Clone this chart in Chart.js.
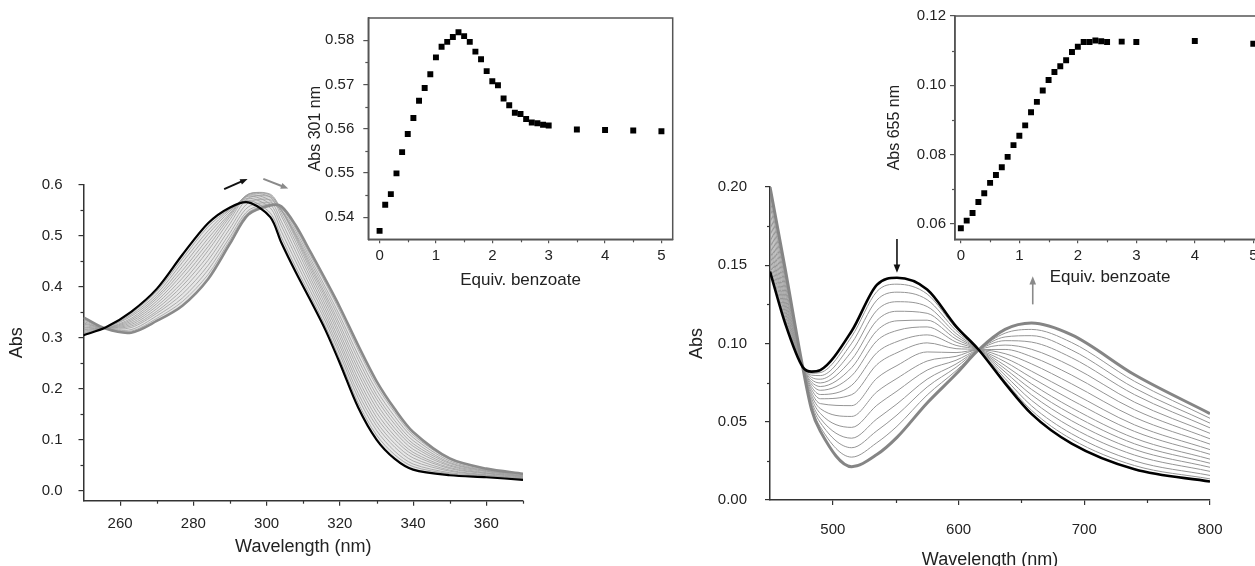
<!DOCTYPE html>
<html>
<head>
<meta charset="utf-8">
<script src="https://cdn.jsdelivr.net/npm/chart.js@4.4.1/dist/chart.umd.min.js"></script>
<style>
  html, body { margin: 0; padding: 0; background: #fff; overflow: hidden; width: 1255px; height: 566px; }
  canvas { position: absolute; }
  #uvMain { left: 0; top: 160px; }
  #visMain { left: 680px; top: 160px; }
  #uvInset { left: 300px; top: 0; }
  #visInset { left: 860px; top: 0; }
</style>
</head>
<body>
<canvas id="uvMain" width="545" height="420"></canvas>
<canvas id="visMain" width="560" height="420"></canvas>
<canvas id="uvInset" width="390" height="300"></canvas>
<canvas id="visInset" width="440" height="300"></canvas>
<script>
// ---- UV titration (left panel) ----
const uvWl = [250, 256, 263, 270, 277, 284, 290, 295, 301, 304, 308, 312, 316, 320, 325, 330, 335, 340, 350, 360, 370];
const uvStart = [0.305, 0.320, 0.351, 0.396, 0.463, 0.525, 0.556, 0.566, 0.537, 0.487, 0.428, 0.373, 0.316, 0.250, 0.163, 0.100, 0.062, 0.041, 0.030, 0.026, 0.021];
const uvEnd = [0.340, 0.318, 0.310, 0.333, 0.363, 0.415, 0.485, 0.542, 0.560, 0.558, 0.520, 0.468, 0.415, 0.360, 0.285, 0.215, 0.160, 0.115, 0.063, 0.043, 0.033];
const uvMid = [
  [0.308, 0.320, 0.348, 0.391, 0.455, 0.518, 0.553, 0.570, 0.545, 0.498, 0.438, 0.382, 0.324, 0.258, 0.172, 0.109, 0.070, 0.047, 0.033, 0.027, 0.022],
  [0.310, 0.320, 0.345, 0.386, 0.448, 0.510, 0.552, 0.574, 0.555, 0.509, 0.449, 0.391, 0.333, 0.267, 0.182, 0.118, 0.077, 0.052, 0.035, 0.029, 0.023],
  [0.313, 0.320, 0.342, 0.381, 0.440, 0.503, 0.549, 0.578, 0.562, 0.520, 0.459, 0.400, 0.341, 0.275, 0.191, 0.127, 0.085, 0.058, 0.038, 0.030, 0.024],
  [0.316, 0.319, 0.338, 0.377, 0.432, 0.495, 0.545, 0.580, 0.569, 0.529, 0.469, 0.409, 0.349, 0.284, 0.201, 0.135, 0.092, 0.064, 0.040, 0.031, 0.025],
  [0.319, 0.319, 0.335, 0.372, 0.425, 0.487, 0.542, 0.582, 0.576, 0.539, 0.479, 0.417, 0.357, 0.292, 0.210, 0.144, 0.100, 0.070, 0.043, 0.033, 0.026],
  [0.321, 0.319, 0.332, 0.367, 0.417, 0.479, 0.538, 0.582, 0.580, 0.545, 0.487, 0.425, 0.365, 0.301, 0.219, 0.153, 0.107, 0.075, 0.045, 0.034, 0.027],
  [0.324, 0.319, 0.329, 0.362, 0.409, 0.471, 0.532, 0.581, 0.582, 0.551, 0.494, 0.432, 0.373, 0.309, 0.229, 0.162, 0.115, 0.081, 0.048, 0.035, 0.028],
  [0.327, 0.319, 0.326, 0.357, 0.402, 0.461, 0.524, 0.574, 0.577, 0.552, 0.498, 0.438, 0.380, 0.318, 0.238, 0.171, 0.122, 0.087, 0.050, 0.037, 0.028],
  [0.329, 0.319, 0.323, 0.352, 0.394, 0.452, 0.515, 0.565, 0.571, 0.550, 0.501, 0.443, 0.386, 0.326, 0.247, 0.180, 0.130, 0.092, 0.053, 0.038, 0.029],
  [0.332, 0.318, 0.320, 0.348, 0.386, 0.442, 0.506, 0.557, 0.565, 0.550, 0.504, 0.449, 0.393, 0.335, 0.257, 0.188, 0.137, 0.098, 0.055, 0.039, 0.030],
  [0.335, 0.318, 0.316, 0.343, 0.378, 0.433, 0.498, 0.550, 0.562, 0.552, 0.509, 0.455, 0.400, 0.343, 0.266, 0.197, 0.145, 0.104, 0.058, 0.040, 0.031],
  [0.337, 0.318, 0.313, 0.338, 0.371, 0.424, 0.492, 0.546, 0.561, 0.555, 0.514, 0.461, 0.408, 0.352, 0.276, 0.206, 0.153, 0.109, 0.061, 0.042, 0.032]
];

// ---- Vis titration (right panel) ----
const visWl = [450, 462, 476, 483, 490, 515, 535, 551, 575, 598, 616, 637, 658, 690, 740, 800];
const visStart = [0.146, 0.113, 0.085, 0.082, 0.083, 0.108, 0.1375, 0.142, 0.1345, 0.111, 0.096, 0.0745, 0.055, 0.036, 0.0196, 0.0118];
const visEnd = [0.200, 0.148, 0.085, 0.058, 0.044, 0.0213, 0.029, 0.040, 0.062, 0.0805, 0.096, 0.109, 0.1131, 0.1055, 0.080, 0.0552];
const visMid = [
  [0.1482, 0.1144, 0.085, 0.0810, 0.0814, 0.1045, 0.1332, 0.1379, 0.1316, 0.1098, 0.096, 0.0759, 0.0573, 0.0388, 0.0220, 0.0135],
  [0.1509, 0.1162, 0.085, 0.0798, 0.0795, 0.1002, 0.1277, 0.1328, 0.1280, 0.1083, 0.096, 0.0776, 0.0602, 0.0423, 0.0250, 0.0157],
  [0.1541, 0.1183, 0.085, 0.0784, 0.0772, 0.0950, 0.1212, 0.1267, 0.1236, 0.1064, 0.096, 0.0797, 0.0637, 0.0464, 0.0287, 0.0183],
  [0.1573, 0.1204, 0.085, 0.0770, 0.0748, 0.0898, 0.1147, 0.1206, 0.1193, 0.1046, 0.096, 0.0818, 0.0672, 0.0506, 0.0323, 0.0209],
  [0.1606, 0.1225, 0.085, 0.0755, 0.0725, 0.0846, 0.1082, 0.1145, 0.1149, 0.1028, 0.096, 0.0838, 0.0707, 0.0548, 0.0359, 0.0235],
  [0.1638, 0.1246, 0.085, 0.0741, 0.0701, 0.0794, 0.1017, 0.1083, 0.1106, 0.1009, 0.096, 0.0859, 0.0742, 0.0589, 0.0395, 0.0261],
  [0.1676, 0.1270, 0.085, 0.0724, 0.0674, 0.0733, 0.0941, 0.1012, 0.1055, 0.0988, 0.096, 0.0883, 0.0782, 0.0638, 0.0438, 0.0292],
  [0.1714, 0.1295, 0.085, 0.0707, 0.0647, 0.0673, 0.0865, 0.0941, 0.1004, 0.0967, 0.096, 0.0907, 0.0823, 0.0687, 0.0480, 0.0322],
  [0.1757, 0.1323, 0.085, 0.0688, 0.0616, 0.0603, 0.0778, 0.0859, 0.0946, 0.0942, 0.096, 0.0935, 0.0870, 0.0742, 0.0528, 0.0357],
  [0.1800, 0.1351, 0.085, 0.0669, 0.0584, 0.0534, 0.0691, 0.0777, 0.0888, 0.0918, 0.096, 0.0962, 0.0916, 0.0798, 0.0577, 0.0391],
  [0.1843, 0.1379, 0.085, 0.0650, 0.0553, 0.0464, 0.0605, 0.0696, 0.0830, 0.0893, 0.096, 0.0990, 0.0963, 0.0854, 0.0625, 0.0426],
  [0.1887, 0.1407, 0.085, 0.0630, 0.0522, 0.0395, 0.0518, 0.0614, 0.0772, 0.0869, 0.096, 0.1018, 0.1009, 0.0909, 0.0673, 0.0461],
  [0.1924, 0.1431, 0.085, 0.0614, 0.0495, 0.0334, 0.0442, 0.0543, 0.0722, 0.0848, 0.096, 0.1042, 0.1050, 0.0958, 0.0715, 0.0491],
  [0.1962, 0.1456, 0.085, 0.0597, 0.0467, 0.0274, 0.0366, 0.0471, 0.0671, 0.0826, 0.096, 0.1066, 0.1090, 0.1006, 0.0758, 0.0522]
];

// ---- Insets: absorbance vs equivalents of benzoate ----
const eq301 = [0, 0.1, 0.2, 0.3, 0.4, 0.5, 0.6, 0.7, 0.8, 0.9, 1.0, 1.1, 1.2, 1.3, 1.4, 1.5, 1.6, 1.7, 1.8, 1.9, 2.0, 2.1, 2.2, 2.3, 2.4, 2.5, 2.6, 2.7, 2.8, 2.9, 3.0, 3.5, 4.0, 4.5, 5.0];
const abs301 = [0.5369, 0.5428, 0.5452, 0.5499, 0.5547, 0.5588, 0.5624, 0.5663, 0.5692, 0.5723, 0.5761, 0.5785, 0.5796, 0.5807, 0.5818, 0.5809, 0.5796, 0.5774, 0.5757, 0.5730, 0.5707, 0.5698, 0.5668, 0.5653, 0.5636, 0.5633, 0.5622, 0.5614, 0.5612, 0.5609, 0.5607, 0.5598, 0.5597, 0.5596, 0.5594];
const eq655 = [0, 0.1, 0.2, 0.3, 0.4, 0.5, 0.6, 0.7, 0.8, 0.9, 1.0, 1.1, 1.2, 1.3, 1.4, 1.5, 1.6, 1.7, 1.8, 1.9, 2.0, 2.1, 2.2, 2.3, 2.4, 2.5, 2.75, 3.0, 4.0, 5.0];
const abs655 = [0.0587, 0.0609, 0.0631, 0.0663, 0.0688, 0.0718, 0.0741, 0.0763, 0.0793, 0.0827, 0.0854, 0.0884, 0.0922, 0.0952, 0.0985, 0.1015, 0.1038, 0.1055, 0.1072, 0.1096, 0.1111, 0.1125, 0.1125, 0.1129, 0.1127, 0.1125, 0.1126, 0.1125, 0.1128, 0.1120];

// tick values
const uvTicksX = [260, 280, 300, 320, 340, 360];
const uvMinorX = [270, 290, 310, 330, 350, 370];
const uvTicksY = [0, 0.1, 0.2, 0.3, 0.4, 0.5, 0.6];
const uvMinorY = [0.05, 0.15, 0.25, 0.35, 0.45, 0.55];
const visTicksX = [500, 600, 700, 800];
const visMinorX = [550, 650, 750];
const visTicksY = [0, 0.05, 0.10, 0.15, 0.20];
const visMinorY = [0.025, 0.075, 0.125, 0.175];
const eqTicks = [0, 1, 2, 3, 4, 5];
const eqMinor = [0.5, 1.5, 2.5, 3.5, 4.5];
const in301Ticks = [0.54, 0.55, 0.56, 0.57, 0.58];
const in301Minor = [0.545, 0.555, 0.565, 0.575];
const in655Ticks = [0.06, 0.08, 0.10, 0.12];
const in655Minor = [0.07, 0.09, 0.11];

Chart.defaults.font.family = '"Liberation Sans", Arial, sans-serif';
Chart.defaults.color = '#222';

// minor ticks, frame and arrows
const decor = {
  id: 'decor',
  afterDraw(chart, args, opts) {
    const { ctx, chartArea: a, scales: { x, y } } = chart;
    ctx.save();
    ctx.strokeStyle = opts.color;
    ctx.lineWidth = 1.2;
    (opts.minorX || []).forEach(v => {
      const px = Math.round(x.getPixelForValue(v)) + 0.5;
      ctx.beginPath(); ctx.moveTo(px, a.bottom); ctx.lineTo(px, a.bottom + opts.minorLen); ctx.stroke();
    });
    (opts.minorY || []).forEach(v => {
      const py = Math.round(y.getPixelForValue(v)) + 0.5;
      ctx.beginPath(); ctx.moveTo(a.left, py); ctx.lineTo(a.left - opts.minorLen, py); ctx.stroke();
    });
    if (opts.box) {
      ctx.lineWidth = 1.5;
      ctx.strokeRect(a.left, a.top, a.right - a.left, a.bottom - a.top);
    }
    (opts.arrows || []).forEach(ar => {
      const x1 = x.getPixelForValue(ar.from[0]), y1 = y.getPixelForValue(ar.from[1]);
      const x2 = x.getPixelForValue(ar.to[0]), y2 = y.getPixelForValue(ar.to[1]);
      const ang = Math.atan2(y2 - y1, x2 - x1);
      const hl = ar.head;
      ctx.strokeStyle = ar.color; ctx.fillStyle = ar.color; ctx.lineWidth = ar.width;
      ctx.beginPath();
      ctx.moveTo(x1, y1);
      ctx.lineTo(x2 - Math.cos(ang) * hl * 0.8, y2 - Math.sin(ang) * hl * 0.8);
      ctx.stroke();
      ctx.beginPath();
      ctx.moveTo(x2, y2);
      ctx.lineTo(x2 - hl * Math.cos(ang - 0.38), y2 - hl * Math.sin(ang - 0.38));
      ctx.lineTo(x2 - hl * Math.cos(ang + 0.38), y2 - hl * Math.sin(ang + 0.38));
      ctx.closePath();
      ctx.fill();
    });
    ctx.restore();
  }
};

function pts(xs, ys) {
  return xs.map((v, i) => ({ x: v, y: ys[i] }));
}

// smooth: 'monotone' or a tension number
function curve(xs, ys, color, width, order, smooth, fill, bg) {
  const ds = {
    data: pts(xs, ys), borderColor: color, borderWidth: width, pointRadius: 0, order: order,
    fill: fill || false, backgroundColor: bg || 'rgba(0,0,0,0)'
  };
  if (smooth === 'monotone') ds.cubicInterpolationMode = 'monotone';
  else ds.tension = smooth;
  return ds;
}

function xAxis(min, max, majors, fmt, o) {
  return {
    type: 'linear', position: 'bottom', min: min, max: max,
    afterBuildTicks: s => { s.ticks = majors.map(v => ({ value: v })); },
    afterFit: s => { s.height = o.h; },
    grid: { drawOnChartArea: false, drawTicks: true, tickLength: o.tl, color: o.c, lineWidth: 1.2 },
    border: { display: true, color: o.c, width: 1.5 },
    ticks: { padding: o.pad, font: { size: o.fs }, color: '#222', maxRotation: 0, autoSkip: false, callback: v => fmt(v) },
    title: { display: true, text: o.title, font: { size: o.tfs }, color: '#222', padding: { top: 0, bottom: o.tpad } }
  };
}

function yAxis(min, max, majors, fmt, o) {
  return {
    type: 'linear', position: 'left', min: min, max: max,
    afterBuildTicks: s => { s.ticks = majors.map(v => ({ value: v })); },
    afterFit: s => { s.width = o.w; },
    grid: { drawOnChartArea: false, drawTicks: true, tickLength: o.tl, color: o.c, lineWidth: 1.2 },
    border: { display: true, color: o.c, width: 1.5 },
    ticks: { padding: o.pad, font: { size: o.fs }, color: '#222', autoSkip: false, callback: v => fmt(v) },
    title: { display: true, text: o.title, font: { size: o.tfs }, color: '#222', padding: { top: o.tpad, bottom: 0 } }
  };
}

const baseOpts = {
  responsive: false, animation: false, devicePixelRatio: 1,
  plugins: { legend: { display: false }, tooltip: { enabled: false } }
};

// left main chart
const uvSets = [curve(uvWl, uvStart, '#000', 2.2, 0, 0.3)];
uvMid.forEach(row => uvSets.push(curve(uvWl, row, '#9b9b9b', 0.8, 2, 0.3, '-1', 'rgba(185,185,185,0.35)')));
uvSets.push(curve(uvWl, uvEnd, '#8a8a8a', 2.6, 1, 0.3, '-1', 'rgba(185,185,185,0.35)'));

new Chart(document.getElementById('uvMain'), {
  type: 'line',
  data: { datasets: uvSets },
  options: Object.assign({}, baseOpts, {
    layout: { padding: { left: 0, top: 20, right: 22, bottom: 0 } },
    scales: {
      x: xAxis(250, 370, uvTicksX, v => String(v), { h: 79.3, tl: 5, c: '#333', pad: 9, fs: 15, tfs: 18, title: 'Wavelength (nm)', tpad: 22 }),
      y: yAxis(-0.02, 0.6, uvTicksY, v => v.toFixed(1), { w: 83.5, tl: 5, c: '#333', pad: 16, fs: 15, tfs: 18, title: 'Abs', tpad: 6.5 })
    },
    plugins: Object.assign({}, baseOpts.plugins, {
      decor: {
        color: '#333', minorLen: 3, minorX: uvMinorX, minorY: uvMinorY,
        arrows: [
          { from: [288.4, 0.592], to: [294.8, 0.612], color: '#111', width: 2, head: 8 },
          { from: [299.1, 0.612], to: [305.9, 0.593], color: '#8a8a8a', width: 2, head: 8 }
        ]
      }
    })
  }),
  plugins: [decor]
});

// right main chart
const visSets = [curve(visWl, visStart, '#000', 2.6, 0, 'monotone')];
visMid.forEach(row => visSets.push(curve(visWl, row, '#959595', 1, 2, 'monotone')));
visSets.push(curve(visWl, visEnd, '#858585', 3, 1, 'monotone'));

new Chart(document.getElementById('visMain'), {
  type: 'line',
  data: { datasets: visSets },
  options: Object.assign({}, baseOpts, {
    layout: { padding: { left: 0, top: 20, right: 30, bottom: 0 } },
    scales: {
      x: xAxis(450, 800, visTicksX, v => String(v), { h: 80, tl: 5, c: '#333', pad: 16, fs: 15, tfs: 18, title: 'Wavelength (nm)', tpad: 9 }),
      y: yAxis(0, 0.2, visTicksY, v => v.toFixed(2), { w: 90, tl: 5, c: '#333', pad: 18, fs: 15, tfs: 18, title: 'Abs', tpad: 6 })
    },
    plugins: Object.assign({}, baseOpts.plugins, {
      decor: {
        color: '#333', minorLen: 3, minorX: visMinorX, minorY: visMinorY,
        arrows: [
          { from: [551, 0.1668], to: [551, 0.1452], color: '#111', width: 1.6, head: 9 },
          { from: [659, 0.1250], to: [659, 0.1430], color: '#8a8a8a', width: 1.6, head: 9 }
        ]
      }
    })
  }),
  plugins: [decor]
});

// insets
function inset(id, xs, ys, yMin, yMax, yTicks, yMinor, o) {
  new Chart(document.getElementById(id), {
    type: 'scatter',
    data: {
      datasets: [{
        data: pts(xs, ys), pointStyle: 'rect', pointRadius: 4.2,
        backgroundColor: '#000', borderColor: '#000', borderWidth: 0
      }]
    },
    options: Object.assign({}, baseOpts, {
      layout: { padding: { left: 0, top: 16, right: o.right, bottom: 0 } },
      scales: {
        x: xAxis(o.xMin, 5.2, eqTicks, v => String(v), { h: 60.7, tl: 4, c: '#555', pad: 4, fs: 15, tfs: 17, title: 'Equiv. benzoate', tpad: o.xtpad }),
        y: yAxis(yMin, yMax, yTicks, v => v.toFixed(2), { w: o.w, tl: 5, c: '#555', pad: o.ypad, fs: 15, tfs: 16, title: o.title, tpad: o.ytpad })
      },
      plugins: Object.assign({}, baseOpts.plugins, {
        decor: { color: '#555', minorLen: 3, minorX: eqMinor, minorY: yMinor, box: true }
      })
    }),
    plugins: [decor]
  });
}

inset('uvInset', eq301, abs301, 0.535, 0.585, in301Ticks, in301Minor,
  { xMin: -0.2, right: 17.3, w: 68.3, ypad: 9, title: 'Abs 301 nm', ytpad: 6.4, xtpad: 9.8 });
inset('visInset', eq655, abs655, 0.0555, 0.12, in655Ticks, in655Minor,
  { xMin: -0.1, right: 35, w: 95, ypad: 4, title: 'Abs 655 nm', ytpad: 25.4, xtpad: 12.8 });
</script>
</body>
</html>
